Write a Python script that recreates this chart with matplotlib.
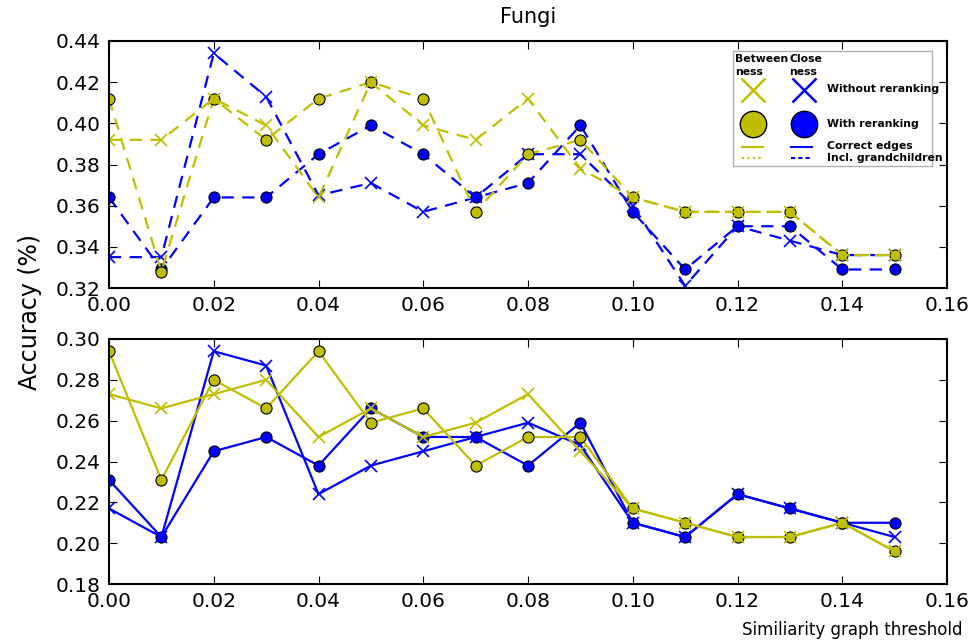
import numpy as np
import matplotlib
matplotlib.use('Agg')
import matplotlib.pyplot as plt

# similarity thresholds
thresholds = [0.00, 0.01, 0.02, 0.03, 0.04, 0.05, 0.06, 0.07,
              0.08, 0.09, 0.10, 0.11, 0.12, 0.13, 0.14, 0.15]

# top panel: incl. grandchildren (dashed)
top_betw_plain = [0.392, 0.392, 0.412, 0.399, 0.364, 0.420, 0.399, 0.392,
                  0.412, 0.378, 0.364, 0.357, 0.357, 0.357, 0.336, 0.336]
top_betw_rerank = [0.412, 0.328, 0.412, 0.392, 0.412, 0.420, 0.412, 0.357,
                   0.385, 0.392, 0.364, 0.357, 0.357, 0.357, 0.336, 0.336]
top_close_plain = [0.335, 0.335, 0.434, 0.413, 0.365, 0.371, 0.357, 0.364,
                   0.385, 0.385, 0.360, 0.321, 0.350, 0.343, 0.336, 0.336]
top_close_rerank = [0.364, 0.329, 0.364, 0.364, 0.385, 0.399, 0.385, 0.364,
                    0.371, 0.399, 0.357, 0.329, 0.350, 0.350, 0.329, 0.329]

# bottom panel: correct edges (solid)
bot_betw_plain = [0.273, 0.266, 0.273, 0.280, 0.252, 0.266, 0.252, 0.259,
                  0.273, 0.245, 0.217, 0.210, 0.203, 0.203, 0.210, 0.196]
bot_betw_rerank = [0.294, 0.231, 0.280, 0.266, 0.294, 0.259, 0.266, 0.238,
                   0.252, 0.252, 0.217, 0.210, 0.203, 0.203, 0.210, 0.196]
bot_close_plain = [0.217, 0.203, 0.294, 0.287, 0.224, 0.238, 0.245, 0.252,
                   0.259, 0.248, 0.210, 0.203, 0.224, 0.217, 0.210, 0.203]
bot_close_rerank = [0.231, 0.203, 0.245, 0.252, 0.238, 0.266, 0.252, 0.252,
                    0.238, 0.259, 0.210, 0.203, 0.224, 0.217, 0.210, 0.210]

x_ticks = [0.00, 0.02, 0.04, 0.06, 0.08, 0.10, 0.12, 0.14, 0.16]
top_yticks = [0.32, 0.34, 0.36, 0.38, 0.40, 0.42, 0.44]
bot_yticks = [0.18, 0.20, 0.22, 0.24, 0.26, 0.28, 0.30]

YEL = '#bfbf00'
BLU = '#0000ff'

fig = plt.figure(figsize=(9.77, 6.42), dpi=100)
W, H = 977, 642
ax_top = fig.add_axes([109 / W, 1 - 288 / H, 838 / W, 247 / H])
ax_bot = fig.add_axes([109 / W, 1 - 584 / H, 838 / W, 245 / H])


def draw_panel(ax, bp, br, cp, cr, ls):
    kw = dict(lw=1.6, linestyle=ls)
    if ls == '--':
        kw['dashes'] = (5.5, 3.8)
    ax.plot(thresholds, cr, color=BLU, marker='o', ms=8, mec='k', mew=0.8, **kw)
    ax.plot(thresholds, cp, color=BLU, marker='x', ms=8.5, mew=1.2, **kw)
    ax.plot(thresholds, br, color=YEL, marker='o', ms=8, mec='k', mew=0.8, **kw)
    ax.plot(thresholds, bp, color=YEL, marker='x', ms=8.5, mew=1.2, **kw)
    ax.set_xlim(0, 0.16)
    ax.set_xticks(x_ticks)
    ax.set_xticklabels(['%.2f' % t for t in x_ticks])
    ax.tick_params(direction='in', top=True, right=True, length=6,
                   labelsize=14.5, pad=6)
    for s in ax.spines.values():
        s.set_linewidth(1.5)


draw_panel(ax_top, top_betw_plain, top_betw_rerank, top_close_plain,
           top_close_rerank, '--')
ax_top.set_ylim(0.32, 0.44)
ax_top.set_yticks(top_yticks)
ax_top.set_yticklabels(['%.2f' % t for t in top_yticks])
ax_top.set_title('Fungi', fontsize=15, pad=13)

draw_panel(ax_bot, bot_betw_plain, bot_betw_rerank, bot_close_plain,
           bot_close_rerank, '-')
ax_bot.set_ylim(0.18, 0.30)
ax_bot.set_yticks(bot_yticks)
ax_bot.set_yticklabels(['%.2f' % t for t in bot_yticks])

fig.text(30 / W, 1 - 312 / H, 'Accuracy (%)', rotation=90, fontsize=17,
         ha='center', va='center')
fig.text(962 / W, 1 - 630 / H, 'Similiarity graph threshold', fontsize=12,
         ha='right', va='center')

# custom legend box (pixel coordinates inside the box)
lg = fig.add_axes([733 / W, 1 - 166 / H, 199 / W, 115 / H])
lg.set_xlim(0, 199)
lg.set_ylim(115, 0)
lg.set_xticks([])
lg.set_yticks([])
for s in lg.spines.values():
    s.set_color('#b0b0b0')
    s.set_linewidth(1.0)
tkw = dict(fontsize=7.8, fontweight='bold', va='center', ha='left')
lg.text(2, 8, 'Between', **tkw)
lg.text(2, 21, 'ness', **tkw)
lg.text(56, 8, 'Close', **tkw)
lg.text(56, 21, 'ness', **tkw)
lg.plot([20], [39], marker='x', ms=17, mew=1.8, color=YEL)
lg.plot([71], [39], marker='x', ms=17, mew=1.8, color=BLU)
lg.text(94, 38, 'Without reranking', **tkw)
lg.plot([20], [73], marker='o', ms=19, mec='k', mew=1.0, color=YEL)
lg.plot([71], [73], marker='o', ms=19, mec='k', mew=1.0, color=BLU)
lg.text(94, 73, 'With reranking', **tkw)
lg.plot([9, 30], [96, 96], color=YEL, lw=1.5)
lg.plot([58, 79], [96, 96], color=BLU, lw=1.5)
lg.text(94, 95, 'Correct edges', **tkw)
lg.plot([9, 30], [107, 107], color=YEL, lw=1.5, linestyle=':')
lg.plot([58, 79], [107, 107], color=BLU, lw=1.5, linestyle='--', dashes=(2, 1.5))
lg.text(94, 107, 'Incl. grandchildren', **tkw)

fig.savefig('out.png', dpi=100)
